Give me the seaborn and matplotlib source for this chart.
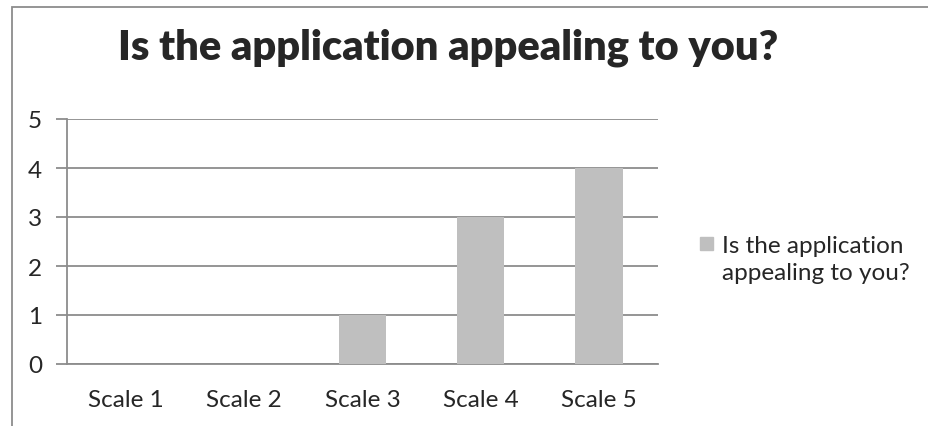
import matplotlib
matplotlib.use("Agg")
import matplotlib.pyplot as plt
import seaborn as sns
import pandas as pd
from matplotlib.patches import Rectangle

categories = ["Scale 1", "Scale 2", "Scale 3", "Scale 4", "Scale 5"]
counts = [0, 0, 1, 3, 4]
series_name = "Is the application appealing to you?"
title = "Is the application appealing to you?"

df = pd.DataFrame({"scale": categories, "count": counts, "series": series_name})

sns.set_style("white")
plt.rcParams["font.family"] = ["Lato", "DejaVu Sans"]

W, H = 929, 427
fig = plt.figure(figsize=(W / 100, H / 100), dpi=100)
ax = fig.add_axes([67 / W, 62 / H, 591 / W, 245 / H])

grid_c = "#8c8c8c"
sns.barplot(data=df, x="scale", y="count", hue="series", palette=["#bfbfbf"],
            width=0.4, saturation=1, ax=ax, legend=False, zorder=3,
            edgecolor="none", linewidth=0)

ax.set_ylim(0, 5)
ax.set_xlim(-0.5, 4.5)
ax.set_yticks(range(6))
ax.yaxis.grid(True, color=grid_c, linewidth=1.3, zorder=0)
ax.set_axisbelow(True)
ax.set_xlabel("")
ax.set_ylabel("")
for s in ["top", "right"]:
    ax.spines[s].set_visible(False)
ax.spines["left"].set_color(grid_c)
ax.spines["left"].set_linewidth(1.3)
ax.spines["bottom"].set_color(grid_c)
ax.spines["bottom"].set_linewidth(1.3)
ax.set_xticks([x - 0.5 for x in range(6)], minor=True)
ax.tick_params(axis="x", which="major", length=0, pad=18, labelsize=17.5)
ax.tick_params(axis="x", which="minor", length=8, width=1.3, color=grid_c, direction="out")
ax.tick_params(axis="y", length=8, width=1.3, color=grid_c, pad=10, labelsize=17.5, left=True)

fig.text(448 / W, 1 - 48 / H, title, ha="center", va="center",
         fontsize=30, fontweight="heavy")

# legend
fig.patches.append(Rectangle((700 / W, 1 - 251 / H), 13 / W, 13 / H,
                             transform=fig.transFigure, color="#bfbfbf"))
fig.text(722 / W, 1 - 260 / H, "Is the application\nappealing to you?",
         ha="left", va="center", fontsize=17.5, linespacing=1.32)

# chart border
fig.patches.append(Rectangle((12 / W, -0.1), 1.2, 1 - 8 / H + 0.1,
                             transform=fig.transFigure, fill=False,
                             edgecolor="#8c8c8c", linewidth=1.3))

fig.savefig("out.png", dpi=100)
